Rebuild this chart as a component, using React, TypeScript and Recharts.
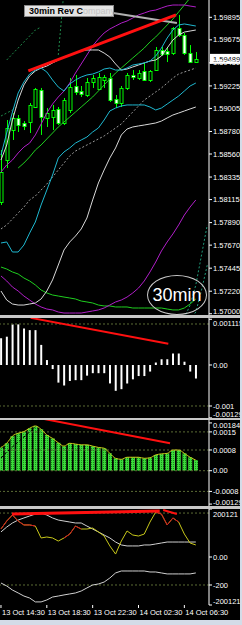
import {
  Bar,
  ComposedChart,
  Line,
  ReferenceLine,
  XAxis,
  YAxis,
} from "recharts";

// 30 minute bars, 13 Oct 14:30 .. 14 Oct 07:30 (two empty slots at the right for shifted lines)
const OPEN = [1.58091, 1.58501, 1.58794, 1.58912, 1.58863, 1.58873, 1.59019, 1.59185, 1.58912, 1.58921, 1.59, 1.58863, 1.5899, 1.59224, 1.59175, 1.59136, 1.59263, 1.59195, 1.59283, 1.59302, 1.59097, 1.59058, 1.59205, 1.59332, 1.59302, 1.59371, 1.59283, 1.5938, 1.59576, 1.59566, 1.59546, 1.5979, 1.59722, 1.59546, 1.59458];
const HIGH = [1.58599, 1.58892, 1.5896, 1.58941, 1.58882, 1.59058, 1.59205, 1.59205, 1.59009, 1.59039, 1.59019, 1.59107, 1.59302, 1.59332, 1.59224, 1.59302, 1.59332, 1.59351, 1.59332, 1.59351, 1.59136, 1.59224, 1.59351, 1.5938, 1.5938, 1.59449, 1.5938, 1.59605, 1.59605, 1.59605, 1.598, 1.59918, 1.59742, 1.59624, 1.59556];
const LOW = [1.58062, 1.58423, 1.58697, 1.58775, 1.58794, 1.58765, 1.59009, 1.58746, 1.58824, 1.58794, 1.58843, 1.58843, 1.5896, 1.59136, 1.59117, 1.59117, 1.59205, 1.59185, 1.59205, 1.59068, 1.59009, 1.59019, 1.59185, 1.59283, 1.59283, 1.59273, 1.59263, 1.59371, 1.59517, 1.59458, 1.59527, 1.59703, 1.59527, 1.59449, 1.59449];
const CLOSE = [1.58384, 1.58814, 1.58912, 1.58843, 1.58834, 1.59039, 1.59195, 1.58921, 1.5896, 1.5899, 1.58863, 1.59087, 1.59214, 1.59166, 1.59146, 1.59263, 1.59302, 1.59312, 1.59312, 1.59087, 1.59058, 1.59205, 1.59332, 1.59312, 1.59351, 1.59283, 1.59371, 1.59576, 1.59537, 1.59537, 1.5979, 1.59722, 1.59546, 1.59458, 1.59489];

// overlay indicators on the price panel
const CYAN_UP = [1.5855, 1.58765, 1.5897, 1.59156, 1.59263, 1.59341, 1.5938, 1.594, 1.59361, 1.59283, 1.59214, 1.59175, 1.59244, 1.59283, 1.59312, 1.59332, 1.59341, 1.59361, 1.5939, 1.594, 1.5938, 1.5938, 1.594, 1.59429, 1.59439, 1.59449, 1.59468, 1.59517, 1.59595, 1.59693, 1.59771, 1.5982, 1.5983, 1.5982, 1.5981];
const CYAN_DN = [1.57691, 1.57701, 1.57603, 1.57603, 1.57671, 1.57788, 1.57896, 1.58062, 1.58208, 1.58355, 1.58521, 1.5858, 1.58619, 1.58667, 1.58697, 1.58726, 1.58775, 1.58814, 1.58892, 1.5898, 1.59009, 1.59029, 1.59039, 1.59039, 1.59039, 1.59039, 1.59019, 1.5899, 1.59009, 1.59048, 1.59087, 1.59126, 1.59175, 1.59224, 1.59253];
const WHITE_UP = [1.58501, 1.58648, 1.58892, 1.59087, 1.59234, 1.59322, 1.59371, 1.594, 1.59419, 1.59449, 1.59478, 1.59507, 1.59527, 1.59546, 1.59566, 1.59576, 1.59576, 1.59576, 1.59546, 1.59507, 1.59439, 1.5938, 1.5939, 1.5941, 1.59429, 1.59449, 1.59468, 1.59478, 1.59517, 1.59595, 1.59673, 1.59722, 1.59751, 1.59761, 1.59771];
const WHITE_DN = [1.57222, 1.57134, 1.57095, 1.57085, 1.57085, 1.57095, 1.57105, 1.57144, 1.57222, 1.5733, 1.57476, 1.57623, 1.57701, 1.57759, 1.57828, 1.57935, 1.58111, 1.58277, 1.58404, 1.58521, 1.58619, 1.58746, 1.58804, 1.58824, 1.58834, 1.58843, 1.58853, 1.58863, 1.58882, 1.58912, 1.58941, 1.5896, 1.5898, 1.59, 1.59019];
const MID_DASH = [1.57828, 1.57867, 1.57925, 1.57984, 1.58042, 1.58111, 1.5815, 1.58208, 1.58267, 1.58335, 1.58404, 1.58472, 1.58541, 1.58589, 1.58619, 1.58648, 1.58677, 1.58707, 1.58736, 1.58775, 1.58814, 1.58853, 1.58912, 1.5897, 1.59029, 1.59087, 1.59126, 1.59166, 1.59205, 1.59253, 1.59302, 1.59341, 1.59361, 1.5938, 1.594];
const PURPLE_UP = [1.58384, 1.58453, 1.58501, 1.5857, 1.58628, 1.58667, 1.58746, 1.58853, 1.5896, 1.59048, 1.59117, 1.59175, 1.59253, 1.59351, 1.59439, 1.59527, 1.59615, 1.59683, 1.59742, 1.59781, 1.5981, 1.59839, 1.59859, 1.59888, 1.59918, 1.59937, 1.59957, 1.59966, 1.59986, 1.60005, 1.60015, 1.60015, 1.60015, 1.60005, 1.59996];
const PURPLE_DN = [1.57369, 1.5732, 1.57261, 1.57222, 1.57173, 1.57134, 1.57095, 1.57066, 1.57046, 1.57037, 1.57017, 1.57007, 1.57007, 1.57007, 1.57007, 1.57017, 1.57027, 1.57037, 1.57056, 1.57085, 1.57115, 1.57134, 1.57163, 1.57203, 1.57251, 1.5732, 1.57408, 1.57505, 1.57613, 1.57701, 1.57779, 1.57867, 1.57964, 1.58042, 1.58111];
const GREEN_UP = [null, null, null, 1.58423, 1.58472, 1.58531, 1.58599, 1.58648, 1.58707, 1.58765, 1.58824, 1.58873, 1.58921, 1.5897, 1.59019, 1.59068, 1.59117, 1.59175, 1.59234, 1.59293, 1.59351, 1.594, 1.59449, 1.59498, 1.59546, 1.59595, 1.59654, 1.59703, 1.59761, 1.5982, 1.59878, 1.59947, 1.60015, 1.60084, 1.60142];
const GREEN_DN = [1.57456, 1.57437, 1.57408, 1.57388, 1.57349, 1.5732, 1.57281, 1.57232, 1.57203, 1.57183, 1.57173, 1.57163, 1.57154, 1.57144, 1.57124, 1.57115, 1.57105, 1.57085, 1.57076, 1.57076, 1.57066, 1.57066, 1.57066, 1.57056, 1.57056, 1.57056, 1.57056, 1.57056, 1.57056, 1.57046, 1.57037, 1.57037, 1.57056, 1.57095, 1.57144];
const DOT_LEFT_A = [1.58931, 1.5896, 1.5899, 1.59029];
const DOT_LEFT_B = [null, 1.59478, 1.59537, 1.59595, 1.59654, 1.59712, 1.59771, 1.598];
const DOT_LEFT_C = [null, null, null, null, null, null, null, null, null, null, 1.59527, 1.60162];
const DOT_RIGHT_A = [...Array(32).fill(null), 1.56958, 1.57085, 1.57281, 1.57574, 1.57867];
const DOT_RIGHT_B = [...Array(33).fill(null), 1.56939, 1.57017, 1.57232, 1.57476];

const LAST_PRICE = 1.59489;
const PRICE_TICKS = [1.59895, 1.59675, 1.5945, 1.59225, 1.59005, 1.5878, 1.5856, 1.58335, 1.58115, 1.5789, 1.5767, 1.57445, 1.5722, 1.57];

// MACD histogram
const MACD = [0.00065, 0.00069, 0.00099, 0.00099, 0.00089, 0.00085, 0.00085, 0.00049, 0.00012, -0.0001, -0.00043, -0.0005, -0.00039, -0.00037, -0.00037, -0.00026, -0.0002, -0.0002, -0.0002, -0.00045, -0.00063, -0.00059, -0.00045, -0.00035, -0.00027, -0.00027, -0.00016, 0.00006, 0.00014, 0.00014, 0.00028, 0.00028, 0.00008, -0.00016, -0.00033];
const MACD_TICKS = [0.001115, 0, -0.001, -0.00129];
const MACD_LABELS = ["0.001115", "0.00", "-0.001", "-0.00129"];

// OsMA histogram
const OSMA = [0.0009, 0.00106, 0.00134, 0.00145, 0.00151, 0.00164, 0.00173, 0.0016, 0.00138, 0.00125, 0.00108, 0.00095, 0.00106, 0.00103, 0.001, 0.001, 0.00095, 0.0009, 0.00087, 0.00067, 0.00048, 0.00044, 0.00052, 0.00052, 0.00052, 0.00048, 0.0005, 0.00061, 0.00065, 0.00067, 0.0008, 0.0008, 0.00067, 0.00052, 0.00041];
const OSMA_SIGNAL = [0.00049, 0.00072, 0.00092, 0.00111, 0.0013, 0.0015, 0.00169];
const OSMA_TICKS = [0.001847, 0.0015, 0.0008, 0, -0.0008, -0.00129];
const OSMA_LABELS = ["0.001847", "0.0015", "0.0008", "0.00", "-0.0008", "-0.00129"];

// oscillator panel
const OSC = [200, 257, 300, 257, 229, 229, 221, 136, 143, 136, 114, 136, 164, 221, 200, 200, 207, 179, 150, 79, 21, 114, 186, 157, 150, 164, 250, 321, 307, 229, 279, 250, 164, 100, 86];
const OSC_RED = [200, 257, 300, 257, 229, 229, 221, null, null, null, null, 136, 164, 221, 200, null, null, null, null, null, null, null, null, null, null, null, null, 321, 307, 229, 279, 250];
const OSC_SLOW = [179, 214, 243, 264, 279, 293, 307, 314, 300, 279, 264, 257, 250, 243, 243, 221, 200, 179, 157, 136, 107, 86, 79, 79, 79, 86, 86, 93, 100, 107, 107, 107, 107, 107, 107];
const OSC_LOW = [-186, -207, -236, -257, -279, -293, -321, -321, -307, -286, -279, -271, -264, -257, -243, -221, -200, -193, -179, -150, -114, -100, -100, -100, -100, -100, -107, -107, -114, -121, -121, -121, -121, -121, -114];
const OSC_TICKS = [343, 0, -200, -343];
const OSC_LABELS = ["200121", "0.00", "-200", "-200121"];

const TIME_TICKS = [0, 8, 16, 24, 32];
const TIME_LABELS = ["13 Oct 14:30", "13 Oct 18:30", "13 Oct 22:30", "14 Oct 02:30", "14 Oct 06:30"];

// hand drawn trend lines (bar index, value)
const PRICE_TREND = [{ x: 4.77, y: 1.59371 }, { x: 30.54, y: 1.59918 }];
const NOTE_POINTER = [{ x: 19.55, y: 1.59937 }, { x: 30.7, y: 1.59839 }];
const MACD_TREND = [{ x: 5.18, y: 0.00115 }, { x: 29.2, y: 0.00052 }];
const OSMA_TREND = [{ x: 6.93, y: 0.002025 }, { x: 29.5, y: 0.001059 }];
const OSC_TREND = [{ x: 1.92, y: 307 }, { x: 27.7, y: 329 }];
const OSC_TREND_2 = [{ x: 28.3, y: 336 }, { x: 30.7, y: 307 }];

const SLOTS = 37;
const X_DOMAIN: [number, number] = [-0.17, 36.3];
const FONT = "'Liberation Sans', Arial, sans-serif";
const W = 242;

const rows = Array.from({ length: SLOTS }, (_, i) => ({
  i,
  open: OPEN[i] ?? null,
  high: HIGH[i] ?? null,
  low: LOW[i] ?? null,
  close: CLOSE[i] ?? null,
  range: HIGH[i] != null ? [LOW[i], HIGH[i]] : null,
  cyanUp: CYAN_UP[i] ?? null,
  cyanDn: CYAN_DN[i] ?? null,
  whiteUp: WHITE_UP[i] ?? null,
  whiteDn: WHITE_DN[i] ?? null,
  mid: MID_DASH[i] ?? null,
  purpleUp: PURPLE_UP[i] ?? null,
  purpleDn: PURPLE_DN[i] ?? null,
  greenUp: GREEN_UP[i] ?? null,
  greenDn: GREEN_DN[i] ?? null,
  dotLA: DOT_LEFT_A[i] ?? null,
  dotLB: DOT_LEFT_B[i] ?? null,
  dotLC: DOT_LEFT_C[i] ?? null,
  dotRA: DOT_RIGHT_A[i] ?? null,
  dotRB: DOT_RIGHT_B[i] ?? null,
  macd: MACD[i] ?? null,
  osma: OSMA[i] ?? null,
  osmaSig: OSMA_SIGNAL[i] ?? null,
  osc: OSC[i] ?? null,
  oscRed: OSC_RED[i] ?? null,
  oscSlow: OSC_SLOW[i] ?? null,
  oscLow: OSC_LOW[i] ?? null,
}));

function Candle(props: any) {
  const { x, y, width, height, payload } = props;
  if (payload.high == null) return null;
  const cx = Math.round(x + width / 2) + 0.5;
  const span = payload.high - payload.low;
  const toY = (v: number) => (span === 0 ? y : y + ((payload.high - v) / span) * height);
  const top = Math.round(toY(Math.max(payload.open, payload.close))) + 0.5;
  const bot = Math.round(toY(Math.min(payload.open, payload.close))) + 0.5;
  const bull = payload.close >= payload.open;
  return (
    <g>
      <line x1={cx} x2={cx} y1={y} y2={y + height} stroke="#00ff00" />
      <rect
        x={cx - 1.5}
        y={top}
        width={3}
        height={Math.max(bot - top, 1)}
        fill={bull ? "#000" : "#fff"}
        stroke="#00ff00"
      />
    </g>
  );
}

function makeTick(h: number, ticks?: number[], labels?: string[]) {
  return (props: any) => {
    const { x, y, payload } = props;
    const k = ticks ? ticks.indexOf(payload.value) : -1;
    const text = k >= 0 && labels ? labels[k] : Number(payload.value).toFixed(5);
    const yy = Math.min(Math.max(y, 5), h - 4);
    return (
      <text x={x} y={yy} dy="0.35em" fill="#fff" fontSize={7.5} fontFamily={FONT} textAnchor="start">
        {text}
      </text>
    );
  };
}

function TimeTick(props: any) {
  const { x, y, payload } = props;
  const k = TIME_TICKS.indexOf(payload.value);
  return (
    <text x={x + 1} y={y + 5} fill="#fff" fontSize={7.5} fontFamily={FONT} textAnchor="start">
      {TIME_LABELS[k]}
    </text>
  );
}

function PriceBox(props: any) {
  const vb = props.viewBox;
  if (!vb) return null;
  const x = vb.x + vb.width + 1;
  return (
    <g>
      <rect x={x} y={vb.y - 5} width={31} height={10} fill="#fff" />
      <text x={x + 3} y={vb.y} dy="0.35em" fill="#000" fontSize={7.5} fontFamily={FONT}>
        {LAST_PRICE.toFixed(5)}
      </text>
    </g>
  );
}

const axisProps = {
  orientation: "right" as const,
  width: 33,
  tickSize: 3,
  tickMargin: 1,
  axisLine: { stroke: "#fff" },
  tickLine: { stroke: "#fff" },
  allowDataOverflow: true,
  interval: 0 as const,
};

const level = { stroke: "#5b6b34", strokeDasharray: "2 2" };
const noHover = { pointerEvents: "none" as const };

function line(key: string, stroke: string, extra: Record<string, unknown> = {}) {
  return (
    <Line
      key={key}
      dataKey={key}
      stroke={stroke}
      strokeWidth={1}
      dot={false}
      activeDot={false}
      isAnimationActive={false}
      {...extra}
    />
  );
}

export default function App() {
  return (
    <div
      style={{
        position: "fixed",
        left: 0,
        top: 0,
        width: W,
        height: 625,
        background: "#000",
        overflow: "hidden",
        fontFamily: FONT,
        pointerEvents: "none",
      }}
    >
      <div style={{ position: "absolute", left: 0, top: 0 }}>
        <ComposedChart width={W} height={315} data={rows} margin={{ top: 0, right: 0, bottom: 0, left: 0 }} style={noHover}>
          <XAxis type="number" dataKey="i" domain={X_DOMAIN} hide allowDataOverflow />
          <YAxis
            {...axisProps}
            domain={[1.569877, 1.60064]}
            ticks={PRICE_TICKS}
            tick={makeTick(315)}
          />
          {line("dotLA", "#1f8a4a", { strokeDasharray: "2 2" })}
          {line("dotLB", "#1f8a4a", { strokeDasharray: "2 2" })}
          {line("dotLC", "#1f8a4a", { strokeDasharray: "2 2" })}
          {line("dotRA", "#1f9a7a", { strokeDasharray: "2 2" })}
          {line("dotRB", "#1f9a7a", { strokeDasharray: "2 2" })}
          <Bar dataKey="range" barSize={4} shape={<Candle />} activeBar={false} isAnimationActive={false} />
          {line("mid", "#9a9a9a", { strokeDasharray: "2 2" })}
          {line("greenUp", "#1fcf1f")}
          {line("greenDn", "#1fcf1f")}
          {line("purpleUp", "#b01fc8")}
          {line("purpleDn", "#b01fc8")}
          {line("whiteUp", "#d8d8d8")}
          {line("whiteDn", "#d8d8d8")}
          {line("cyanUp", "#1fb8d0")}
          {line("cyanDn", "#1fb8d0")}
          <ReferenceLine segment={NOTE_POINTER} stroke="#b0b0b0" strokeWidth={2} ifOverflow="visible" />
          <ReferenceLine segment={PRICE_TREND} stroke="#ff1010" strokeWidth={3} ifOverflow="visible" />
          <ReferenceLine y={LAST_PRICE} stroke="none" ifOverflow="visible" label={(p: any) => <PriceBox {...p} />} />
        </ComposedChart>
      </div>

      <div style={{ position: "absolute", left: 0, top: 318 }}>
        <ComposedChart width={W} height={100} data={rows} margin={{ top: 0, right: 0, bottom: 0, left: 0 }} style={noHover}>
          <XAxis type="number" dataKey="i" domain={X_DOMAIN} hide allowDataOverflow />
          <YAxis
            {...axisProps}
            domain={[-0.001293, 0.001146]}
            ticks={MACD_TICKS}
            tick={makeTick(100, MACD_TICKS, MACD_LABELS)}
          />
          <ReferenceLine y={0.001} {...level} />
          <ReferenceLine y={-0.001} {...level} />
          <Bar dataKey="macd" barSize={2} fill="#fff" activeBar={false} isAnimationActive={false} />
          <ReferenceLine segment={MACD_TREND} stroke="#ff1010" strokeWidth={2} ifOverflow="visible" />
        </ComposedChart>
      </div>

      <div style={{ position: "absolute", left: 0, top: 420 }}>
        <ComposedChart width={W} height={86} data={rows} margin={{ top: 0, right: 0, bottom: 0, left: 0 }} style={noHover}>
          <defs>
            <pattern id="osmaFill" width="2" height="2" patternUnits="userSpaceOnUse">
              <rect width="2" height="2" fill="#3ddc3d" />
              <rect x="1" width="1" height="1" fill="#178f17" />
            </pattern>
          </defs>
          <XAxis type="number" dataKey="i" domain={X_DOMAIN} hide allowDataOverflow />
          <YAxis
            {...axisProps}
            domain={[-0.001364, 0.00196]}
            ticks={OSMA_TICKS}
            tick={makeTick(86, OSMA_TICKS, OSMA_LABELS)}
          />
          <ReferenceLine y={0.0015} {...level} />
          <ReferenceLine y={0.0008} {...level} />
          <ReferenceLine y={0} {...level} />
          <ReferenceLine y={-0.0008} {...level} />
          <Bar dataKey="osma" barSize={4} fill="url(#osmaFill)" activeBar={false} isAnimationActive={false} />
          {line("osmaSig", "#000", { strokeDasharray: "3 2" })}
          {line("osma", "#c8c81a", { type: "monotone" })}
          <ReferenceLine segment={OSMA_TREND} stroke="#ff1010" strokeWidth={2} ifOverflow="visible" />
        </ComposedChart>
      </div>

      <div style={{ position: "absolute", left: 0, top: 509 }}>
        <ComposedChart width={W} height={111} data={rows} margin={{ top: 0, right: 0, bottom: 0, left: 0 }} style={noHover}>
          <XAxis
            type="number"
            dataKey="i"
            domain={X_DOMAIN}
            allowDataOverflow
            ticks={TIME_TICKS}
            interval={0}
            height={15}
            axisLine={false}
            tickSize={3}
            tickLine={{ stroke: "#fff" }}
            tick={<TimeTick />}
          />
          <YAxis
            {...axisProps}
            domain={[-343, 343]}
            ticks={OSC_TICKS}
            tick={makeTick(96, OSC_TICKS, OSC_LABELS)}
          />
          <ReferenceLine y={314} {...level} />
          <ReferenceLine y={-200} {...level} />
          {line("oscSlow", "#d0d0d0")}
          {line("oscLow", "#d0d0d0")}
          {line("osc", "#c8c81a")}
          {line("oscRed", "#d01020")}
          <ReferenceLine segment={OSC_TREND} stroke="#ff1010" strokeWidth={3} ifOverflow="visible" />
          <ReferenceLine segment={OSC_TREND_2} stroke="#ff1010" strokeWidth={2} ifOverflow="visible" />
        </ComposedChart>
      </div>

      {/* pane splitters and window frame */}
      <div style={{ position: "absolute", left: 0, top: 315, width: W, height: 3, background: "#c8c8c8" }} />
      <div style={{ position: "absolute", left: 0, top: 418, width: W, height: 2, background: "#c8c8c8" }} />
      <div style={{ position: "absolute", left: 0, top: 506, width: W, height: 3, background: "#c8c8c8" }} />
      <div style={{ position: "absolute", left: 0, top: 620, width: W, height: 5, background: "#d4dce8" }} />
      <div style={{ position: "absolute", left: 240, top: 0, width: 2, height: 625, background: "#d4dce8" }} />

      {/* chart note */}
      <div
        style={{
          position: "absolute",
          left: 24,
          top: 5,
          width: 90,
          height: 12,
          background: "#e4e4e4",
          border: "1px solid #8a8a8a",
          boxSizing: "border-box",
          fontSize: 9,
          fontWeight: "bold",
          lineHeight: "10px",
          paddingLeft: 4,
          color: "#000",
          whiteSpace: "nowrap",
          overflow: "hidden",
        }}
      >
        30min Rev C<span style={{ color: "#c4c4c4", fontWeight: "normal" }}>ompany</span>
      </div>

      {/* timeframe stamp */}
      <div
        style={{
          position: "absolute",
          left: 147,
          top: 275,
          width: 60,
          height: 40,
          borderRadius: "50%",
          border: "1px solid #c8c8c8",
          boxSizing: "border-box",
          color: "#fff",
          fontSize: 18,
          lineHeight: "38px",
          textAlign: "center",
        }}
      >
        30min
      </div>
    </div>
  );
}
